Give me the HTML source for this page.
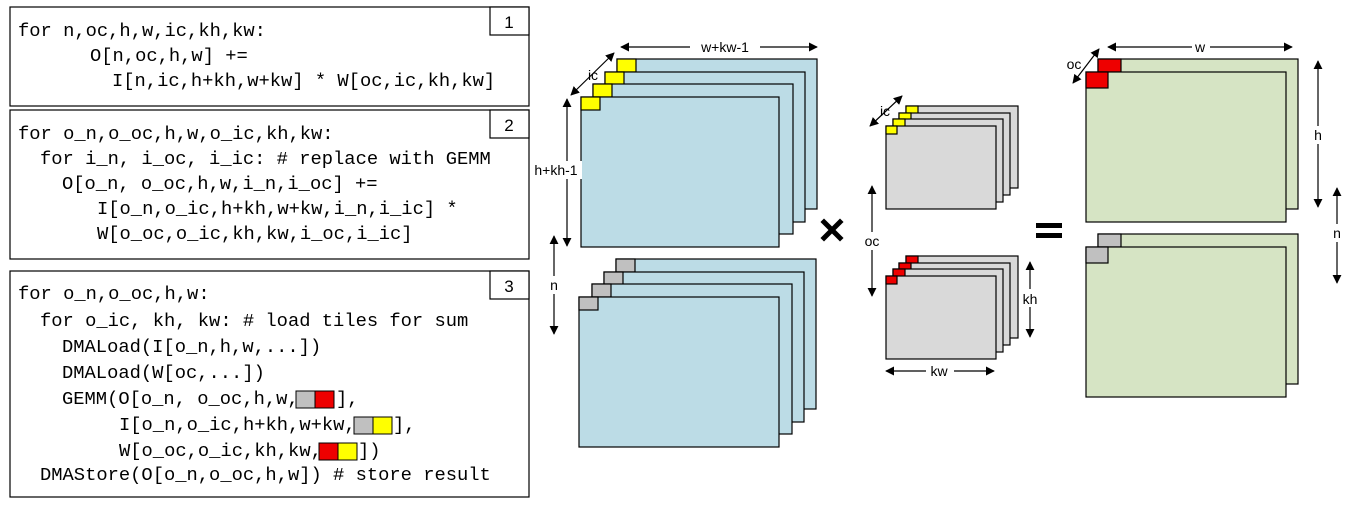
<!DOCTYPE html>
<html><head><meta charset="utf-8"><style>
html,body{margin:0;padding:0;background:#fff;}
svg{display:block}
.c{font-family:"Liberation Mono",monospace;font-size:18.8px;fill:#000}
.l{font-family:"Liberation Sans",sans-serif;font-size:14px;fill:#000}
</style></head><body>
<svg width="1361" height="507" viewBox="0 0 1361 507" xmlns="http://www.w3.org/2000/svg">
<defs>
<marker id="a" viewBox="0 0 10 10" refX="9" refY="5" markerWidth="9" markerHeight="9" orient="auto-start-reverse" markerUnits="userSpaceOnUse"><path d="M0,0 L10,5 L0,10 z" fill="#000"/></marker>
</defs>
<g fill="#fff" stroke="#000" stroke-width="1.2">
<rect x="10" y="7" width="519" height="99"/>
<rect x="490" y="7" width="39" height="28"/>
<rect x="10" y="110" width="519" height="149"/>
<rect x="490" y="110" width="39" height="28"/>
<rect x="10" y="271" width="519" height="226"/>
<rect x="490" y="271" width="39" height="28"/>
</g>
<g text-anchor="middle" style="font-family:'Liberation Sans',sans-serif;font-size:17px">
<text x="509" y="28">1</text><text x="509" y="131">2</text><text x="509" y="292">3</text>
</g>
<g class="c">
<text x="18" y="36">for n,oc,h,w,ic,kh,kw:</text>
<text x="90" y="61">O[n,oc,h,w] +=</text>
<text x="112" y="86">I[n,ic,h+kh,w+kw] * W[oc,ic,kh,kw]</text>
<text x="18" y="139">for o_n,o_oc,h,w,o_ic,kh,kw:</text>
<text x="40" y="164">for i_n, i_oc, i_ic: # replace with GEMM</text>
<text x="62" y="189">O[o_n, o_oc,h,w,i_n,i_oc] +=</text>
<text x="97" y="214">I[o_n,o_ic,h+kh,w+kw,i_n,i_ic] *</text>
<text x="97" y="239">W[o_oc,o_ic,kh,kw,i_oc,i_ic]</text>
<text x="18" y="299">for o_n,o_oc,h,w:</text>
<text x="40" y="326">for o_ic, kh, kw: # load tiles for sum</text>
<text x="62" y="352">DMALoad(I[o_n,h,w,...])</text>
<text x="62" y="378">DMALoad(W[oc,...])</text>
<text x="62" y="404">GEMM(O[o_n, o_oc,h,w,</text><text x="336" y="404">],</text>
<text x="119" y="430">I[o_n,o_ic,h+kh,w+kw,</text><text x="393" y="430">],</text>
<text x="119" y="456">W[o_oc,o_ic,kh,kw,</text><text x="358" y="456">])</text>
<text x="40" y="480">DMAStore(O[o_n,o_oc,h,w]) # store result</text>
</g>
<g stroke="#000" stroke-width="1">
<rect x="296" y="391" width="19" height="17" fill="#c0c0c0"/><rect x="315" y="391" width="19" height="17" fill="#ee0000"/>
<rect x="354" y="417" width="19" height="17" fill="#c0c0c0"/><rect x="373" y="417" width="19" height="17" fill="#ffff00"/>
<rect x="319" y="443" width="19" height="17" fill="#ee0000"/><rect x="338" y="443" width="19" height="17" fill="#ffff00"/>
</g>
<g stroke="#000" stroke-width="1.2">
<rect x="617" y="59" width="200" height="150" fill="#bcdce6"/><rect x="617" y="59" width="19" height="13" fill="#ffff00"/>
<rect x="605" y="72" width="200" height="150" fill="#bcdce6"/><rect x="605" y="72" width="19" height="13" fill="#ffff00"/>
<rect x="593" y="84" width="200" height="150" fill="#bcdce6"/><rect x="593" y="84" width="19" height="13" fill="#ffff00"/>
<rect x="581" y="97" width="198" height="150" fill="#bcdce6"/><rect x="581" y="97" width="19" height="13" fill="#ffff00"/>
<rect x="616" y="259" width="200" height="150" fill="#bcdce6"/><rect x="616" y="259" width="19" height="13" fill="#c0c0c0"/>
<rect x="604" y="272" width="200" height="150" fill="#bcdce6"/><rect x="604" y="272" width="19" height="13" fill="#c0c0c0"/>
<rect x="592" y="284" width="200" height="150" fill="#bcdce6"/><rect x="592" y="284" width="19" height="13" fill="#c0c0c0"/>
<rect x="579" y="297" width="200" height="150" fill="#bcdce6"/><rect x="579" y="297" width="19" height="13" fill="#c0c0c0"/>
<rect x="906" y="106" width="112" height="82" fill="#d9d9d9"/><rect x="906" y="106" width="12" height="8" fill="#ffff00"/>
<rect x="899" y="113" width="111" height="82" fill="#d9d9d9"/><rect x="899" y="113" width="12" height="8" fill="#ffff00"/>
<rect x="893" y="119" width="110" height="83" fill="#d9d9d9"/><rect x="893" y="119" width="12" height="8" fill="#ffff00"/>
<rect x="886" y="126" width="110" height="83" fill="#d9d9d9"/><rect x="886" y="126" width="11" height="8" fill="#ffff00"/>
<rect x="906" y="256" width="112" height="82" fill="#d9d9d9"/><rect x="906" y="256" width="12" height="8" fill="#ee0000"/>
<rect x="899" y="263" width="111" height="82" fill="#d9d9d9"/><rect x="899" y="263" width="12" height="8" fill="#ee0000"/>
<rect x="893" y="269" width="110" height="83" fill="#d9d9d9"/><rect x="893" y="269" width="12" height="8" fill="#ee0000"/>
<rect x="886" y="276" width="110" height="83" fill="#d9d9d9"/><rect x="886" y="276" width="11" height="8" fill="#ee0000"/>
<rect x="1098" y="59" width="200" height="150" fill="#d6e4c4"/><rect x="1098" y="59" width="23" height="13" fill="#ee0000"/>
<rect x="1086" y="72" width="200" height="150" fill="#d6e4c4"/><rect x="1086" y="72" width="22" height="16" fill="#ee0000"/>
<rect x="1098" y="234" width="200" height="150" fill="#d6e4c4"/><rect x="1098" y="234" width="23" height="13" fill="#c0c0c0"/>
<rect x="1086" y="247" width="200" height="150" fill="#d6e4c4"/><rect x="1086" y="247" width="22" height="16" fill="#c0c0c0"/>
</g>
<g stroke="#000" stroke-width="1.2" fill="none" marker-start="url(#a)" marker-end="url(#a)">
<line x1="621" y1="47" x2="817" y2="47"/>
<line x1="614" y1="53" x2="571" y2="95"/>
<line x1="567" y1="99" x2="567" y2="246"/>
<line x1="554" y1="236" x2="554" y2="334"/>
<line x1="902" y1="96" x2="870" y2="126"/>
<line x1="872" y1="186" x2="872" y2="296"/>
<line x1="1030" y1="262" x2="1030" y2="337"/>
<line x1="886" y1="371" x2="994" y2="371"/>
<line x1="1108" y1="47" x2="1292" y2="47"/>
<line x1="1099" y1="49" x2="1073" y2="83"/>
<line x1="1318" y1="61" x2="1318" y2="207"/>
<line x1="1337" y1="188" x2="1337" y2="283"/>
</g>
<g fill="#fff">
<rect x="690" y="38" width="70" height="18"/><rect x="530" y="161" width="52" height="18"/><rect x="546" y="276" width="16" height="18"/>
<rect x="862" y="232" width="22" height="18"/><rect x="1020" y="289" width="22" height="18"/><rect x="926" y="362" width="28" height="18"/>
<rect x="1192" y="38" width="18" height="18"/><rect x="1310" y="126" width="16" height="18"/><rect x="1329" y="224" width="16" height="18"/>
</g>
<g text-anchor="middle" style="font-family:'Liberation Sans',sans-serif;font-size:14px">
<text x="725" y="52">w+kw-1</text>
<text x="593" y="80">ic</text>
<text x="556" y="175">h+kh-1</text>
<text x="554" y="290">n</text>
<text x="885" y="116">ic</text>
<text x="872" y="246">oc</text>
<text x="1030" y="304">kh</text>
<text x="939" y="376">kw</text>
<text x="1200" y="52">w</text>
<text x="1074" y="69">oc</text>
<text x="1318" y="140">h</text>
<text x="1337" y="238">n</text>
</g>
<g stroke="#000" stroke-width="5" stroke-linecap="square">
<line x1="824" y1="222" x2="840" y2="238"/><line x1="840" y1="222" x2="824" y2="238"/>
</g>
<rect x="1036" y="223" width="26" height="5" fill="#000"/>
<rect x="1036" y="233" width="26" height="5" fill="#000"/>
</svg>
</body></html>
